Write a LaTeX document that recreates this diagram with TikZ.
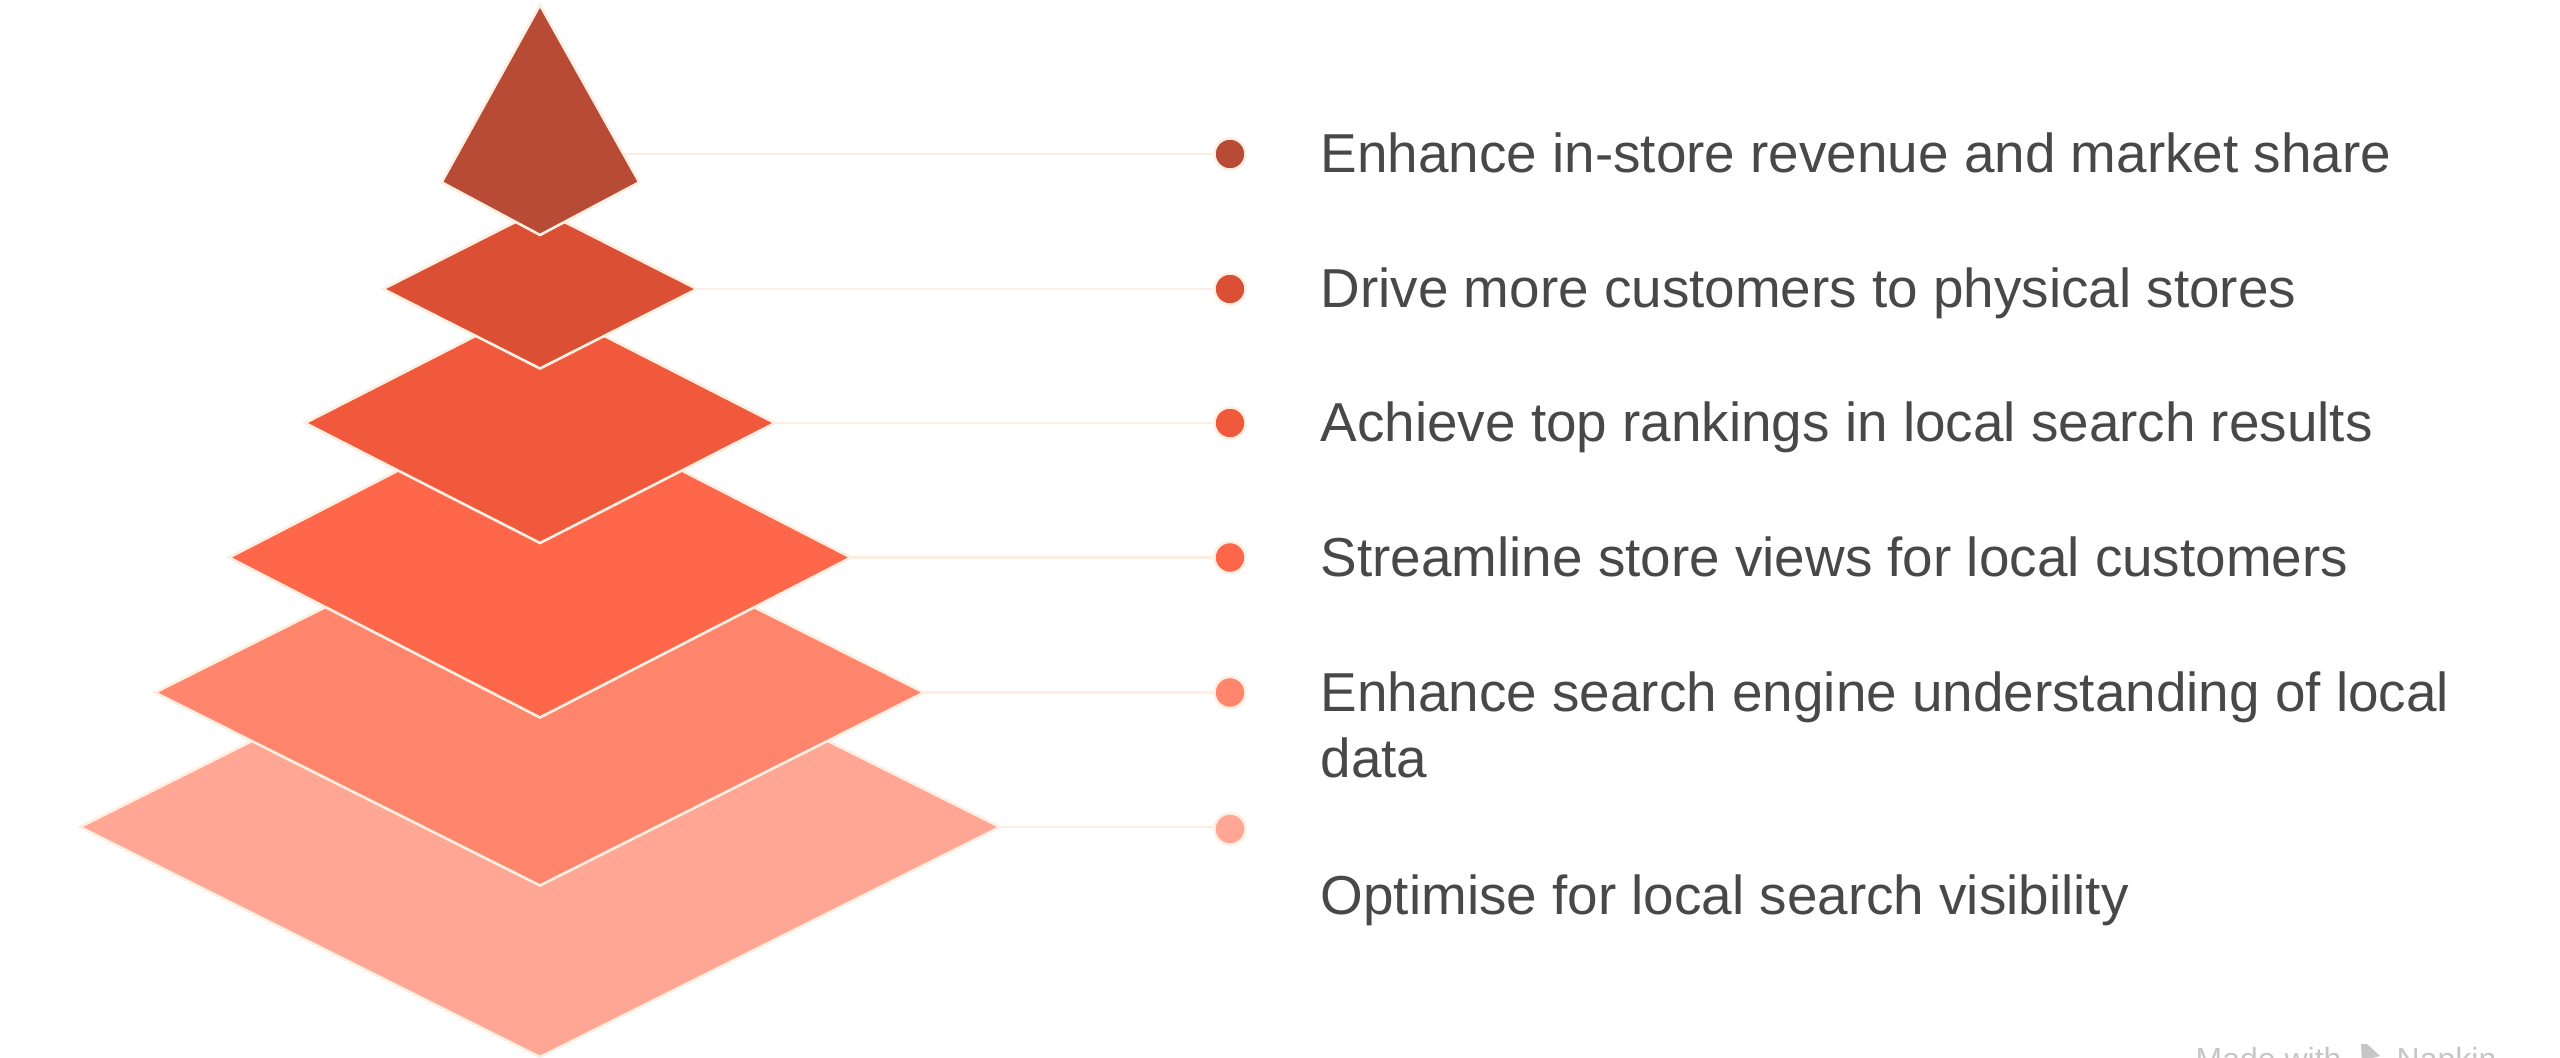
\documentclass[tikz,border=0pt]{standalone}
\usepackage{fontspec}
\setmainfont{Liberation Sans}
\definecolor{cA}{HTML}{B84B36}
\definecolor{cB}{HTML}{DB5034}
\definecolor{cC}{HTML}{F0593C}
\definecolor{cD}{HTML}{FF674A}
\definecolor{cE}{HTML}{FF866D}
\definecolor{cF}{HTML}{FFA794}
\definecolor{cream}{HTML}{FCEFE2}
\definecolor{txtgray}{HTML}{484848}
\definecolor{wmgray}{HTML}{C6C6C6}
\tikzset{
  tier/.style={draw=cream, line width=0.75pt, line join=miter},
  link/.style={draw=cream, line width=0.65pt},
  dot/.style={circle, draw=cream, line width=0.7pt, minimum size=0.31cm, inner sep=0pt},
  lbl/.style={anchor=base west, inner sep=0pt, text=txtgray, font=\fontsize{15.6}{19}\selectfont},
  wm/.style={anchor=base west, inner sep=0pt, text=wmgray, font=\fontsize{9.1}{11}\selectfont}
}
\begin{document}
\begin{tikzpicture}[x=0.01cm, y=-0.01cm]
\useasboundingbox (0,0) rectangle (2560,1058);
% dots
\node[dot, fill=cA] (d1) at (1230,154) {};
\node[dot, fill=cB] (d2) at (1230,289) {};
\node[dot, fill=cC] (d3) at (1230,423) {};
\node[dot, fill=cD] (d4) at (1230,557.5) {};
\node[dot, fill=cE] (d5) at (1230,692.5) {};
\node[dot, fill=cF] (d6) at (1230,829) {};
% tips
\coordinate (r1) at (615,154);
\coordinate (r2) at (697,289);
\coordinate (r3) at (775,423);
\coordinate (r4) at (851,557.5);
\coordinate (r5) at (924,692.5);
\coordinate (r6) at (1000,827);
% connectors
\draw[link] (r1) -- (d1.west);
\draw[link] (r2) -- (d2.west);
\draw[link] (r3) -- (d3.west);
\draw[link] (r4) -- (d4.west);
\draw[link] (r5) -- (d5.west);
\draw[link] (r6) -- (d6.west|-r6);
% tiers, bottom first
\path[tier, fill=cF] (80,827) -- (540,597) -- (r6) -- (540,1057) -- cycle;
\path[tier, fill=cE] (155,692.5) -- (540,499.5) -- (r5) -- (540,885.5) -- cycle;
\path[tier, fill=cD] (229,557.5) -- (540,397.5) -- (r4) -- (540,717.5) -- cycle;
\path[tier, fill=cC] (305,423) -- (540,303) -- (r3) -- (540,543) -- cycle;
\path[tier, fill=cB] (383,289) -- (540,209.5) -- (r2) -- (540,368.5) -- cycle;
\path[tier, fill=cA] (441.6,182.3) -- (540,5) -- (639.3,182.3) -- (540,235) -- cycle;
% labels
\node[lbl] (t1) at (1320,173) {Enhance in-store revenue and market share};
\node[lbl] (t2) at (1320,308) {Drive more customers to physical stores};
\node[lbl] (t3) at (1320,442) {Achieve top rankings in local search results};
\node[lbl] (t4) at (1320,576.5) {Streamline store views for local customers};
\node[lbl] (t5) at (1320,711) {\vtop{\baselineskip=19pt\hbox{Enhance search engine understanding of local}\hbox{data}}};
\node[lbl] (t6) at (1320,914) {Optimise for local search visibility};
% watermark
\begin{scope}
\clip (2100,1000) rectangle (2560,1058);
\node[wm] (w1) at (2195,1070) {Made with};
\fill[wmgray] (2361,1044) -- (2367,1044) -- (2380,1056) -- (2372,1058) -- (2378,1068) -- (2374,1070) -- (2368,1060) -- (2362,1064) -- cycle;
\node[wm] (w2) at (2396,1070) {Napkin};
\end{scope}
\end{tikzpicture}
\end{document}
